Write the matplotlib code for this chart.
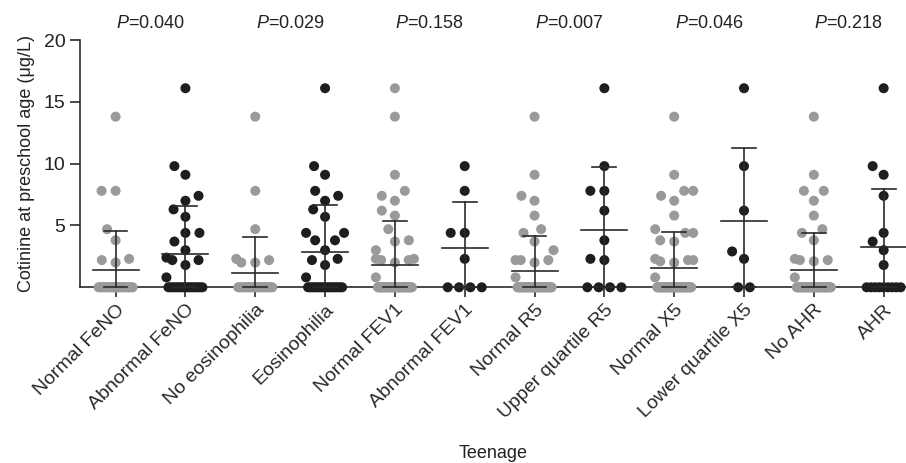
import matplotlib
matplotlib.use("Agg")
import matplotlib.pyplot as plt
import numpy as np

plt.rcParams["font.family"] = ["Liberation Sans", "DejaVu Sans"]
plt.rcParams["mathtext.fontset"] = "custom"
plt.rcParams["mathtext.rm"] = "Liberation Sans"
plt.rcParams["mathtext.it"] = "Liberation Sans:italic"

# values (cotinine, ug/L); zeros sit on the axis
normal_feno = [13.8, 7.8, 7.8, 4.7, 3.8, 2.3, 2.0, 2.2] + [0] * 23
abnormal_feno = [16.1, 9.8, 9.1, 7.0, 7.4, 6.3, 5.7, 4.4, 4.4, 3.7, 3.0, 2.4, 2.2, 2.2, 1.8, 0.8] + [0] * 16
no_eosinophilia = [13.8, 7.8, 4.7, 2.3, 2.0, 2.0, 2.2] + [0] * 23
eosinophilia = [16.1, 9.8, 9.1, 7.8, 7.0, 7.4, 6.3, 5.7, 4.4, 4.4, 3.8, 3.8, 3.0, 2.2, 2.3, 1.8, 0.8] + [0] * 17
normal_fev1 = [16.1, 13.8, 9.1, 7.8, 7.4, 7.0, 6.2, 5.8, 4.7, 3.7, 3.8, 3.0,
               2.3, 2.2, 2.0, 2.2, 2.3, 0.8] + [0] * 37
abnormal_fev1 = [9.8, 7.8, 4.4, 4.4, 2.3] + [0] * 4
normal_r5 = [13.8, 9.1, 7.0, 7.4, 5.8, 4.7, 4.4, 3.7, 3.0, 2.2, 2.0, 2.2, 2.2, 0.8] + [0] * 37
upper_r5 = [16.1, 9.8, 7.8, 7.8, 6.2, 3.8, 2.3, 2.2] + [0] * 4
normal_x5 = [13.8, 9.1, 7.8, 7.8, 7.0, 7.4, 5.8, 4.7, 4.4, 4.4, 3.7, 3.8,
             2.3, 2.2, 2.0, 2.2, 2.1, 0.8] + [0] * 41
lower_x5 = [16.1, 9.8, 6.2, 2.9, 2.3] + [0] * 2
no_ahr = [13.8, 9.1, 7.8, 7.8, 7.0, 5.8, 4.7, 4.4, 3.8, 2.2, 2.3, 2.2, 2.1, 0.8] + [0] * 38
ahr = [16.1, 9.1, 9.8, 7.4, 4.4, 3.7, 3.0, 1.8] + [0] * 9

categories = ["Normal FeNO", "Abnormal FeNO", "No eosinophilia", "Eosinophilia",
              "Normal FEV1", "Abnormal FEV1", "Normal R5", "Upper quartile R5",
              "Normal X5", "Lower quartile X5", "No AHR", "AHR"]
groups = [normal_feno, abnormal_feno, no_eosinophilia, eosinophilia, normal_fev1, abnormal_fev1,
          normal_r5, upper_r5, normal_x5, lower_x5, no_ahr, ahr]
p_values = ["0.040", "0.029", "0.158", "0.007", "0.046", "0.218"]

GREY = "#9a9a9a"
BLACK = "#1e1e1e"
LINE = "#2a2a2a"
TEXT = "#222222"

fig = plt.figure(figsize=(9.06, 4.63), dpi=100)
ax = fig.add_axes([0.0883, 0.3795, 0.9117, 0.5341])
ax.set_xlim(-0.51, 11.32)
ax.set_ylim(0, 20)

# pixel scales, used for the swarm layout
px_x = 0.9117 * 906 / (11.32 + 0.51)
px_y = 0.5341 * 463 / 20.0


def swarm_offsets(values, diam=14.0, max_half=19.0, zero_half=17.0, zero_step=11.7):
    vals = np.asarray(values, dtype=float)
    offs = np.zeros(len(vals))
    placed = []
    zeros = np.where(vals == 0)[0]
    n0 = len(zeros)
    if n0:
        step = zero_step if n0 < 2 else min(zero_step, 2 * zero_half / (n0 - 1))
        xs = (np.arange(n0) - (n0 - 1) / 2) * step
        for i, x in zip(zeros, xs):
            offs[i] = x
            placed.append((x, 0.0, 11.0))
    rest = [i for i in np.argsort(vals, kind="stable") if vals[i] != 0]
    for i in rest:
        y = vals[i] * px_y
        cands = [0.0]
        for (xp, yp, d) in placed:
            dy = abs(y - yp)
            if dy < d:
                w = np.sqrt(d * d - dy * dy)
                cands += [xp - w - 0.01, xp + w + 0.01]
        cands.sort(key=lambda c: (abs(c), c > 0))
        for c in cands:
            ok = True
            for (xp, yp, d) in placed:
                if (c - xp) ** 2 + (y - yp) ** 2 < d * d - 1e-6:
                    ok = False
                    break
            if ok:
                c = float(np.clip(c, -max_half, max_half))
                offs[i] = c
                placed.append((c, y, diam))
                break
    return offs / px_x


for k, vals in enumerate(groups):
    color = GREY if k % 2 == 0 else BLACK
    xs = k + swarm_offsets(vals)
    ax.scatter(xs, vals, s=52, color=color, edgecolors="none", zorder=2, clip_on=False)

    mean = np.mean(vals)
    sd = np.std(vals, ddof=1)
    lo = max(mean - sd, 0)
    ax.plot([k - 0.33, k + 0.33], [mean, mean], color=LINE, lw=1.2, zorder=3, clip_on=False)
    ax.plot([k, k], [lo, mean + sd], color=LINE, lw=1.2, zorder=3, clip_on=False)
    for yy in (lo, mean + sd):
        ax.plot([k - 0.17, k + 0.17], [yy, yy], color=LINE, lw=1.2, zorder=3, clip_on=False)

for j, p in enumerate(p_values):
    ax.text(2 * j + 0.5, 1.066, r"$P$=" + p, transform=ax.get_xaxis_transform(),
            ha="center", va="center", fontsize=13, color=TEXT)

for side in ("top", "right"):
    ax.spines[side].set_visible(False)
for side in ("left", "bottom"):
    ax.spines[side].set_color(LINE)
    ax.spines[side].set_linewidth(1.2)
ax.spines["bottom"].set_zorder(1)

ax.set_yticks([5, 10, 15, 20])
ax.set_xticks(range(len(categories)))
ax.set_xticklabels(categories, rotation=45, ha="right", rotation_mode="anchor", fontsize=14, color=TEXT)
ax.tick_params(axis="y", labelsize=14, colors=LINE, labelcolor=TEXT, length=7, width=1.2)
ax.tick_params(axis="x", colors=LINE, length=7, width=1.2, pad=3)
ax.set_ylabel("Cotinine at preschool age (\u03bcg/L)", fontsize=13, color=TEXT, labelpad=6)
ax.set_xlabel("Teenage", fontsize=13, color=TEXT, labelpad=17)

fig.savefig("out.png", dpi=100)
